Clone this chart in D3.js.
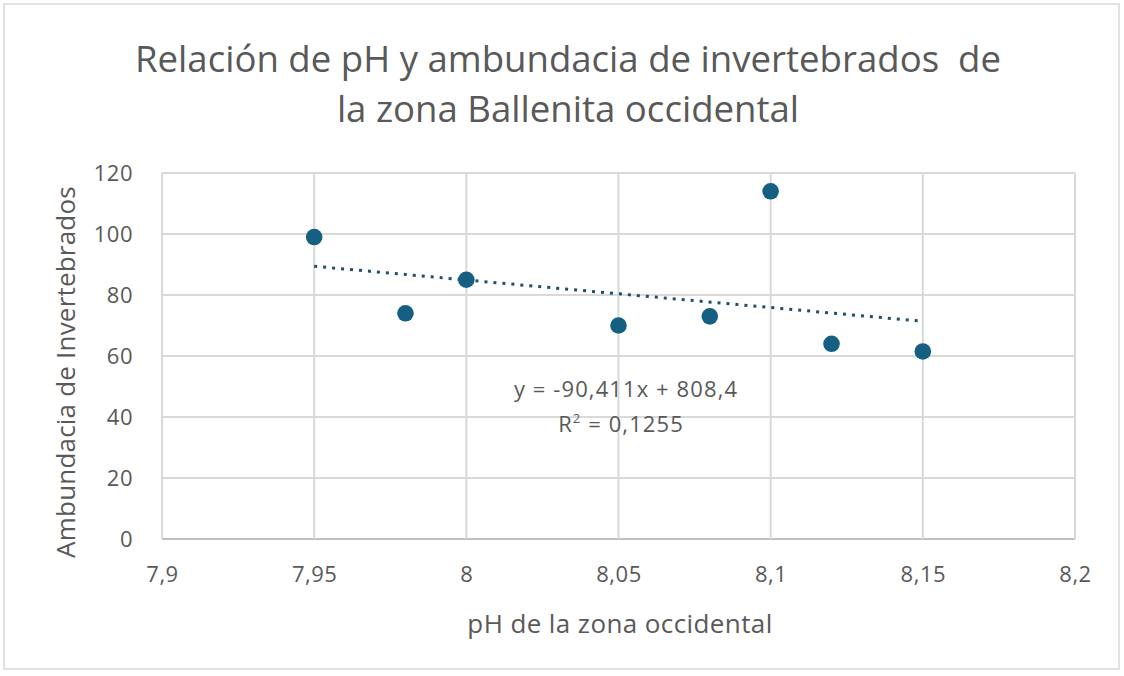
<!DOCTYPE html>
<html><head><meta charset="utf-8">
<script src="https://cdn.jsdelivr.net/npm/d3@7"></script>
<style>body{margin:0;background:#fff}svg{display:block}text{font-family:"Open Sans",Lato,sans-serif;fill:#595959;white-space:pre}</style>
</head><body>
<svg id="c" width="1124" height="676"></svg>
<script>
const phValues = [7.95, 7.98, 8.0, 8.05, 8.08, 8.1, 8.12, 8.15];
const abundance = [99, 74, 85, 70, 73, 114, 64, 61.5];
const xTicks = [7.9, 7.95, 8.0, 8.05, 8.1, 8.15, 8.2];
const yTicks = [0, 20, 40, 60, 80, 100, 120];
const titleLines = ["Relación de pH y ambundacia de invertebrados  de", "la zona Ballenita occidental"];
const equationText = "y = -90,411x + 808,4";
const r2Text = "0,1255";

const svg = d3.select("#c");
svg.append("rect").attr("x",4).attr("y",4).attr("width",1115).attr("height",665)
  .attr("fill","#fff").attr("stroke","#d9d9d9").attr("stroke-width",1.5);

const x = d3.scaleLinear().domain([7.9, 8.2]).range([162, 1075]);
const y = d3.scaleLinear().domain([0, 120]).range([539, 173]);
const fmt = d => String(+d.toFixed(2)).replace(".", ",");

// gridlines
svg.append("g").selectAll("line").data(yTicks).join("line")
  .attr("x1", x(7.9)).attr("x2", x(8.2)).attr("y1", d=>y(d)).attr("y2", d=>y(d))
  .attr("stroke", d => d===0 ? "#bfbfbf" : "#d9d9d9").attr("stroke-width", 2);
svg.append("g").selectAll("line").data(xTicks).join("line")
  .attr("y1", y(0)).attr("y2", y(120)).attr("x1", d=>x(d)).attr("x2", d=>x(d))
  .attr("stroke", "#d9d9d9").attr("stroke-width", 2);

// axes labels via d3 axes
const yAxis = svg.append("g").attr("transform", `translate(${x(7.9)},0)`)
  .call(d3.axisLeft(y).tickValues(yTicks).tickSize(0).tickPadding(29).tickFormat(d=>d));
yAxis.select(".domain").remove();
yAxis.selectAll("text").attr("font-size", 22).attr("fill", "#595959").style("font-family","Open Sans").style("letter-spacing","0.5px");
const xAxis = svg.append("g").attr("transform", `translate(0,${y(0)})`)
  .call(d3.axisBottom(x).tickValues(xTicks).tickSize(0).tickPadding(27).tickFormat(fmt));
xAxis.select(".domain").remove();
xAxis.selectAll("text").attr("font-size", 22).attr("fill", "#595959").style("font-family","Open Sans").style("letter-spacing","0.5px");

// trendline (least squares)
const mx = d3.mean(phValues), my = d3.mean(abundance);
const slope = d3.sum(phValues.map((v,i)=>(v-mx)*(abundance[i]-my))) / d3.sum(phValues.map(v=>(v-mx)**2));
const intercept = my - slope*mx;
const x0 = d3.min(phValues), x1 = d3.max(phValues);
svg.append("line").attr("x1", x(x0)).attr("x2", x(x1))
  .attr("y1", y(slope*x0+intercept)).attr("y2", y(slope*x1+intercept))
  .attr("stroke", "#1f4e6e").attr("stroke-width", 3).attr("stroke-dasharray", "3 6").attr("stroke-linecap","butt");

// points
svg.append("g").selectAll("circle").data(phValues).join("circle")
  .attr("cx", d=>x(d)).attr("cy", (d,i)=>y(abundance[i])).attr("r", 8.3)
  .attr("fill", "#156082");

// equation
svg.append("text").attr("x", 626).attr("y", 397).attr("text-anchor","middle").attr("font-size", 22)
  .style("letter-spacing","1.1px").text(equationText);
const r2 = svg.append("text").attr("x", 621).attr("y", 432).attr("text-anchor","middle").attr("font-size", 22)
  .style("letter-spacing","1.1px");
r2.append("tspan").text("R");
r2.append("tspan").attr("dy", -9).attr("font-size", 13).text("2");
r2.append("tspan").attr("dy", 9).text(" = " + r2Text);

// title
svg.append("g").selectAll("text").data(titleLines).join("text")
  .attr("x", 568).attr("y", (d,i)=>72 + i*50).attr("text-anchor","middle")
  .attr("font-size", 36.6).text(d=>d);

// axis titles
svg.append("text").attr("x", 620).attr("y", 633).attr("text-anchor","middle").attr("font-size", 26)
  .style("letter-spacing","0.4px").text("pH de la zona occidental");
svg.append("text").attr("transform","translate(75,372) rotate(-90)").attr("text-anchor","middle").attr("font-size", 26)
  .style("letter-spacing","0.2px").text("Ambundacia de Invertebrados");
</script>
</body></html>
